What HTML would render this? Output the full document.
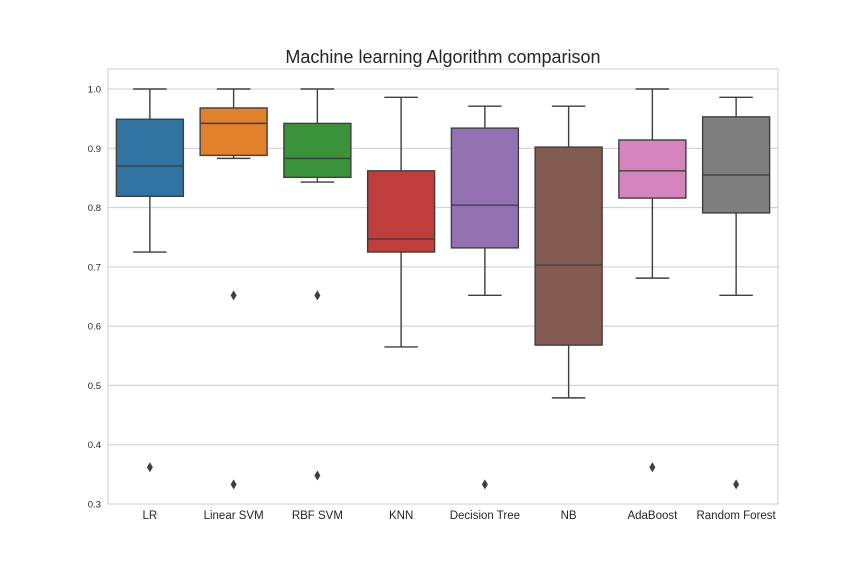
<!DOCTYPE html>
<html><head><meta charset="utf-8"><style>
html,body{margin:0;padding:0;background:#fff;}
svg text{font-family:"Liberation Sans",Arial,sans-serif;fill:#262626;}
</style></head><body>
<svg id="chart" width="864" height="576" viewBox="0 0 864 576">
<rect width="864" height="576" fill="#fff"/>
<text x="443" y="63" font-size="18" text-anchor="middle">Machine learning Algorithm comparison</text>
<g id="grid"></g>
<g id="boxes"></g>
<g id="axes"></g>
</svg>
<script>
const categories = ["LR","Linear SVM","RBF SVM","KNN","Decision Tree","NB","AdaBoost","Random Forest"];
const whiskerLow = [0.725,0.883,0.843,0.565,0.652,0.479,0.681,0.652];
const q1 = [0.819,0.888,0.851,0.725,0.732,0.568,0.816,0.791];
const median = [0.870,0.942,0.883,0.747,0.804,0.703,0.862,0.855];
const q3 = [0.949,0.968,0.942,0.862,0.934,0.902,0.914,0.953];
const whiskerHigh = [1.0,1.0,1.0,0.986,0.971,0.971,1.0,0.986];
const outliers = [[0.362],[0.652,0.333],[0.652,0.348],[],[0.333],[],[0.362],[0.333]];
const yTicks = [0.3,0.4,0.5,0.6,0.7,0.8,0.9,1.0];
const colors = ["#3274a1","#e1812c","#3a923a","#c03d3e","#9372b2","#845b53","#d684bd","#7f7f7f"];

const NS="http://www.w3.org/2000/svg";
const L=108,R=778,T=69,B=504,ymin=0.3,ymax=1.0,yTop=89;
const y=v=>B-(v-ymin)/(ymax-ymin)*(B-yTop);
const band=(R-L)/categories.length;
const x=i=>L+band*(i+0.5);
function mk(tag,attrs,parent){const e=document.createElementNS(NS,tag);for(const k in attrs)e.setAttribute(k,attrs[k]);parent.appendChild(e);return e;}
const grid=document.getElementById('grid'),boxes=document.getElementById('boxes'),axes=document.getElementById('axes');
yTicks.forEach(t=>{
  const g=mk('line',{x1:L,x2:R,y1:y(t),y2:y(t),stroke:'#cccccc','stroke-width':1},grid);
  
  
  const tx=mk('text',{x:L-7,y:y(t)+3.5,'font-size':9.5,'text-anchor':'end'},axes);
  tx.textContent=t.toFixed(1);
  
  
});
const frame=mk('rect',{x:L,y:T,width:R-L,height:B-T,fill:'none',stroke:'#cccccc','stroke-width':1},axes);


const lc='#3f3f3f',bw=band*0.8;
categories.forEach((c,i)=>{
  const g=mk('g',{},boxes);
  
  
  const cx=x(i);
  mk('line',{x1:cx,x2:cx,y1:y(q3[i]),y2:y(whiskerHigh[i]),stroke:lc,'stroke-width':1.4},g);
  mk('line',{x1:cx,x2:cx,y1:y(q1[i]),y2:y(whiskerLow[i]),stroke:lc,'stroke-width':1.4},g);
  mk('line',{x1:cx-bw/4,x2:cx+bw/4,y1:y(whiskerHigh[i]),y2:y(whiskerHigh[i]),stroke:lc,'stroke-width':1.4},g);
  mk('line',{x1:cx-bw/4,x2:cx+bw/4,y1:y(whiskerLow[i]),y2:y(whiskerLow[i]),stroke:lc,'stroke-width':1.4},g);
  mk('rect',{x:cx-bw/2,y:y(q3[i]),width:bw,height:y(q1[i])-y(q3[i]),fill:colors[i],stroke:lc,'stroke-width':1.4},g);
  mk('line',{x1:cx-bw/2,x2:cx+bw/2,y1:y(median[i]),y2:y(median[i]),stroke:lc,'stroke-width':1.4},g);
  outliers[i].forEach(o=>{
    const oy=y(o);
    const d=mk('path',{d:`M${cx},${oy-5} L${cx+3},${oy} L${cx},${oy+5} L${cx-3},${oy} Z`,fill:lc},g);
    
    
  });
  const tx=mk('text',{x:cx,y:B+15,'font-size':11.5,'text-anchor':'middle'},axes);
  tx.textContent=c;
  
  
});
</script>
</body></html>
